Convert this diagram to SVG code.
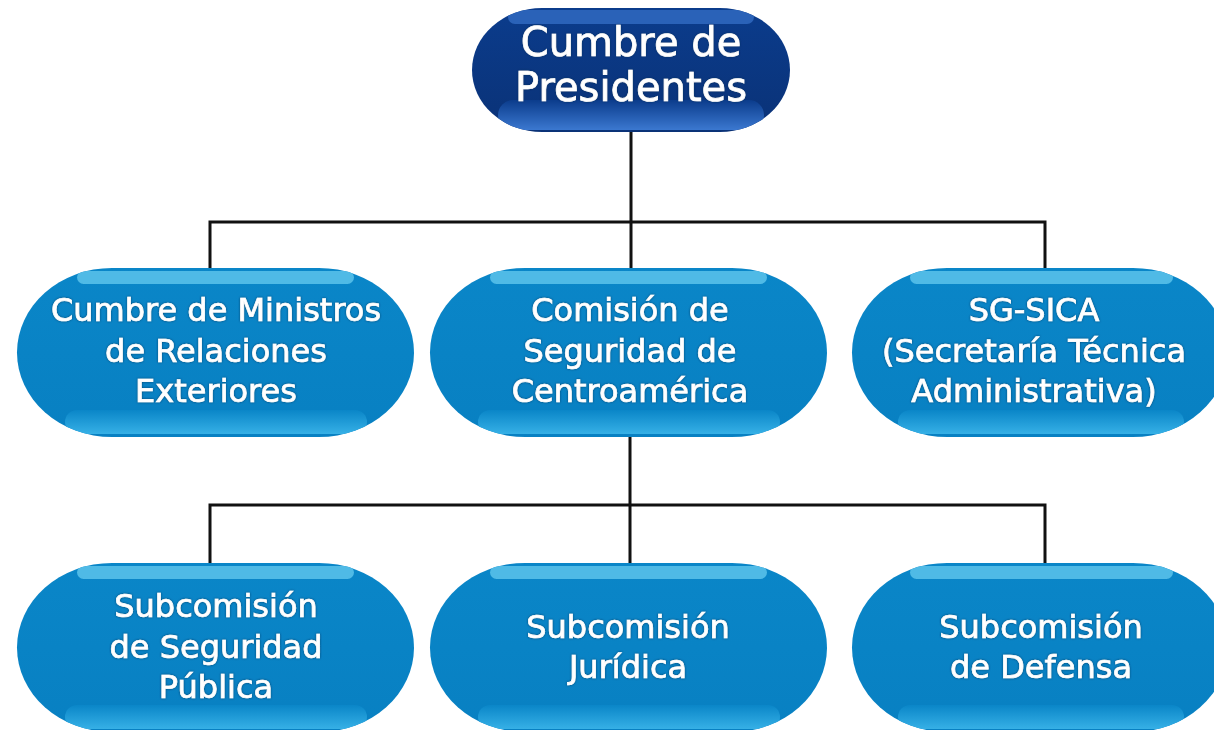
<svg xmlns="http://www.w3.org/2000/svg" width="1214" height="730" viewBox="0 0 1214 730">
<defs>
<linearGradient id="gTop" x1="0" y1="0" x2="0" y2="1">
<stop offset="0" stop-color="#0b3c8c"/><stop offset="1" stop-color="#0a3277"/>
</linearGradient>
<linearGradient id="gTopBot" x1="0" y1="0" x2="0" y2="1">
<stop offset="0" stop-color="#0b3c8c"/><stop offset="1" stop-color="#3b78d0"/>
</linearGradient>
<linearGradient id="gBlue" x1="0" y1="0" x2="0" y2="1">
<stop offset="0" stop-color="#0a86c8"/><stop offset="1" stop-color="#0880c2"/>
</linearGradient>
<linearGradient id="gBot" x1="0" y1="0" x2="0" y2="1">
<stop offset="0" stop-color="#0a86c8"/><stop offset="1" stop-color="#36b0e6"/>
</linearGradient>
<filter id="sh" x="-10%" y="-10%" width="120%" height="120%">
<feDropShadow dx="0" dy="0" stdDeviation="0.8" flood-color="#003355" flood-opacity="0.8"/>
</filter>
<clipPath id="c0"><rect x="472" y="8" width="318" height="124" rx="70" ry="62"/></clipPath>
<clipPath id="c1"><rect x="17" y="268" width="397" height="169" rx="95" ry="84.5"/></clipPath>
<clipPath id="c2"><rect x="430" y="268" width="397" height="169" rx="95" ry="84.5"/></clipPath>
<clipPath id="c3"><rect x="852" y="268" width="376" height="169" rx="95" ry="84.5"/></clipPath>
<clipPath id="c4"><rect x="17" y="563" width="397" height="169" rx="95" ry="84.5"/></clipPath>
<clipPath id="c5"><rect x="430" y="563" width="397" height="169" rx="95" ry="84.5"/></clipPath>
<clipPath id="c6"><rect x="852" y="563" width="376" height="169" rx="95" ry="84.5"/></clipPath>
</defs>
<style>
.t{font-family:"DejaVu Sans","Liberation Sans",sans-serif;fill:#ffffff;stroke:#ffffff;stroke-width:0.7;text-anchor:middle;filter:url(#sh)}
.m{font-size:32px}
.big{font-size:40px}
.hl{fill:#4fbae6}
.conn{stroke:#111;stroke-width:3;fill:none}
</style>
<g id="connectors">
<path class="conn" d="M631,132 V268 M210,268 V222 H1045 V268"/>
<path class="conn" d="M630,437 V563 M210,563 V505 H1045 V563"/>
</g>
<g id="n-presidentes">
<rect x="472" y="8" width="318" height="124" rx="70" ry="62" fill="url(#gTop)"/>
<g clip-path="url(#c0)">
<rect x="508" y="10" width="246" height="14" rx="7" fill="#2a62b8"/>
<rect x="498" y="100" width="266" height="30" rx="15" fill="url(#gTopBot)"/>
</g>
<text class="t big" x="631" y="56">Cumbre de</text>
<text class="t big" x="631" y="101">Presidentes</text>
</g>
<g id="n-ministros">
<rect x="17" y="268" width="397" height="169" rx="95" ry="84.5" fill="url(#gBlue)"/>
<g clip-path="url(#c1)">
<rect x="77" y="271" width="277" height="13" rx="6.5" class="hl"/>
<rect x="65" y="410" width="302" height="24" rx="12" fill="url(#gBot)"/>
</g>
<text class="t m" x="216" y="321">Cumbre de Ministros</text>
<text class="t m" x="216" y="362">de Relaciones</text>
<text class="t m" x="216" y="402">Exteriores</text>
</g>
<g id="n-comision">
<rect x="430" y="268" width="397" height="169" rx="95" ry="84.5" fill="url(#gBlue)"/>
<g clip-path="url(#c2)">
<rect x="490" y="271" width="277" height="13" rx="6.5" class="hl"/>
<rect x="478" y="410" width="302" height="24" rx="12" fill="url(#gBot)"/>
</g>
<text class="t m" x="630" y="321">Comisión de</text>
<text class="t m" x="630" y="362">Seguridad de</text>
<text class="t m" x="630" y="402">Centroamérica</text>
</g>
<g id="n-sgsica">
<rect x="852" y="268" width="376" height="169" rx="95" ry="84.5" fill="url(#gBlue)"/>
<g clip-path="url(#c3)">
<rect x="910" y="271" width="263" height="13" rx="6.5" class="hl"/>
<rect x="898" y="410" width="286" height="24" rx="12" fill="url(#gBot)"/>
</g>
<text class="t m" x="1034" y="321">SG-SICA</text>
<text class="t m" x="1034" y="362">(Secretaría Técnica</text>
<text class="t m" x="1034" y="402">Administrativa)</text>
</g>
<g id="n-sub-seguridad">
<rect x="17" y="563" width="397" height="169" rx="95" ry="84.5" fill="url(#gBlue)"/>
<g clip-path="url(#c4)">
<rect x="77" y="566" width="277" height="13" rx="6.5" class="hl"/>
<rect x="65" y="705" width="302" height="24" rx="12" fill="url(#gBot)"/>
</g>
<text class="t m" x="216" y="617">Subcomisión</text>
<text class="t m" x="216" y="658">de Seguridad</text>
<text class="t m" x="216" y="698">Pública</text>
</g>
<g id="n-sub-juridica">
<rect x="430" y="563" width="397" height="169" rx="95" ry="84.5" fill="url(#gBlue)"/>
<g clip-path="url(#c5)">
<rect x="490" y="566" width="277" height="13" rx="6.5" class="hl"/>
<rect x="478" y="705" width="302" height="24" rx="12" fill="url(#gBot)"/>
</g>
<text class="t m" x="628" y="638">Subcomisión</text>
<text class="t m" x="628" y="678">Jurídica</text>
</g>
<g id="n-sub-defensa">
<rect x="852" y="563" width="376" height="169" rx="95" ry="84.5" fill="url(#gBlue)"/>
<g clip-path="url(#c6)">
<rect x="910" y="566" width="263" height="13" rx="6.5" class="hl"/>
<rect x="898" y="705" width="286" height="24" rx="12" fill="url(#gBot)"/>
</g>
<text class="t m" x="1041" y="638">Subcomisión</text>
<text class="t m" x="1041" y="678">de Defensa</text>
</g>
</svg>
